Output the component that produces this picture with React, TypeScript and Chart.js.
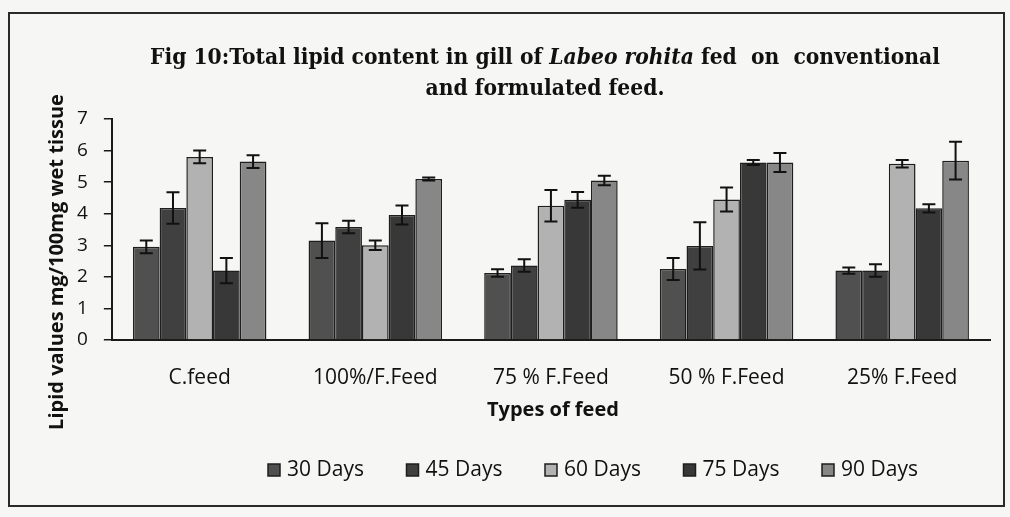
import React, { useEffect, useRef } from "react";
import { Chart, registerables } from "chart.js";

Chart.register(...registerables);

const categories = ["C.feed", "100%/F.Feed", "75 % F.Feed", "50 % F.Feed", "25% F.Feed"];
const seriesLabels = ["30 Days", "45 Days", "60 Days", "75 Days", "90 Days"];

const days30 = [2.95, 3.15, 2.12, 2.25, 2.2];
const days45 = [4.18, 3.58, 2.36, 2.98, 2.2];
const days60 = [5.8, 3.0, 4.25, 4.45, 5.58];
const days75 = [2.2, 3.96, 4.44, 5.62, 4.17];
const days90 = [5.65, 5.1, 5.05, 5.62, 5.68];

const err30 = [0.2, 0.55, 0.12, 0.35, 0.1];
const err45 = [0.5, 0.2, 0.2, 0.75, 0.2];
const err60 = [0.2, 0.15, 0.5, 0.38, 0.12];
const err75 = [0.4, 0.3, 0.25, 0.08, 0.13];
const err90 = [0.2, 0.05, 0.15, 0.3, 0.6];

const seriesValues = [days30, days45, days60, days75, days90];
const seriesErrors = [err30, err45, err60, err75, err90];
const seriesColors = ["#505050", "#404040", "#b2b2b2", "#383838", "#878787"];

const yMin = 0;
const yMax = 7;
const yStep = 1;

const titleLine1 = [
  { text: "Fig 10:Total lipid content in gill of ", italic: false },
  { text: "Labeo rohita", italic: true },
  { text: " fed  on  conventional", italic: false },
];
const titleLine2 = "and formulated feed.";
const yTitle = "Lipid values mg/100mg wet tissue";
const xTitle = "Types of feed";

const SANS = "'Open Sans', 'Liberation Sans', sans-serif";
const SERIF = "'DejaVu Serif', 'Liberation Serif', serif";

const backgroundPlugin = {
  id: "paperBackground",
  beforeDraw(chart: any) {
    const { ctx, width, height } = chart;
    ctx.save();
    ctx.fillStyle = "#f6f6f4";
    ctx.fillRect(0, 0, width, height);
    ctx.strokeStyle = "#2a2a2a";
    ctx.lineWidth = 2;
    ctx.strokeRect(9, 13, 995, 493);
    ctx.restore();
  },
};

const textPlugin = {
  id: "chartTexts",
  afterDraw(chart: any) {
    const ctx = chart.ctx;
    const area = chart.chartArea;
    ctx.save();
    ctx.fillStyle = "#111";
    ctx.textBaseline = "middle";

    // Title (mixed roman / italic)
    const size = 22;
    const fontFor = (it: boolean) => `${it ? "italic " : ""}bold ${size}px ${SERIF}`;
    let total = 0;
    const widths = titleLine1.map((s) => {
      ctx.font = fontFor(s.italic);
      const w = ctx.measureText(s.text).width;
      total += w;
      return w;
    });
    const sx = 790 / total;
    ctx.save();
    ctx.translate(545, 58);
    ctx.scale(sx, 1);
    let x = -total / 2;
    titleLine1.forEach((s, i) => {
      ctx.font = fontFor(s.italic);
      ctx.textAlign = "left";
      ctx.fillText(s.text, x, 0);
      x += widths[i];
    });
    ctx.restore();
    ctx.save();
    ctx.translate(545, 89);
    ctx.scale(sx, 1);
    ctx.font = fontFor(false);
    ctx.textAlign = "center";
    ctx.fillText(titleLine2, 0, 0);
    ctx.restore();

    // y axis title
    ctx.save();
    ctx.translate(57, 262);
    ctx.rotate(-Math.PI / 2);
    ctx.font = `bold 20px ${SANS}`;
    ctx.textAlign = "center";
    ctx.fillText(yTitle, 0, 0);
    ctx.restore();

    // x axis title
    ctx.font = `bold 20px ${SANS}`;
    ctx.textAlign = "center";
    ctx.fillText(xTitle, (area.left + area.right) / 2 + 2, area.bottom + 70);

    // legend
    const lx0 = 268;
    const step = 138.5;
    const ly = 470;
    ctx.font = `21px ${SANS}`;
    ctx.textAlign = "left";
    seriesLabels.forEach((label, i) => {
      const bx = lx0 + i * step;
      ctx.fillStyle = seriesColors[i];
      ctx.fillRect(bx, ly - 6, 12, 12);
      ctx.strokeStyle = "#1e1e1e";
      ctx.lineWidth = 1.5;
      ctx.strokeRect(bx, ly - 6, 12, 12);
      ctx.fillStyle = "#111";
      ctx.fillText(label, bx + 19, ly);
    });
    ctx.restore();
  },
};

const errorBarPlugin = {
  id: "errorBars",
  afterDatasetsDraw(chart: any) {
    const ctx = chart.ctx;
    const yScale = chart.scales.y;
    chart.data.datasets.forEach((ds: any, di: number) => {
      const meta = chart.getDatasetMeta(di);
      const errs = seriesErrors[di];
      meta.data.forEach((bar: any, i: number) => {
        const v = ds.data[i];
        const e = errs[i];
        const x = bar.x;
        const yTop = yScale.getPixelForValue(v + e);
        const yBot = yScale.getPixelForValue(v - e);
        ctx.save();
        ctx.strokeStyle = "#111";
        ctx.lineWidth = 2;
        ctx.beginPath();
        ctx.moveTo(x, yTop);
        ctx.lineTo(x, yBot);
        ctx.moveTo(x - 6.5, yTop);
        ctx.lineTo(x + 6.5, yTop);
        ctx.moveTo(x - 6.5, yBot);
        ctx.lineTo(x + 6.5, yBot);
        ctx.stroke();
        ctx.restore();
      });
    });
  },
};

export default function App() {
  const canvasRef = useRef<HTMLCanvasElement | null>(null);

  useEffect(() => {
    if (!canvasRef.current) return;
    const chart = new Chart(canvasRef.current, {
      type: "bar",
      data: {
        labels: categories,
        datasets: seriesLabels.map((label, i) => ({
          label,
          data: seriesValues[i],
          backgroundColor: seriesColors[i],
          borderColor: "#1e1e1e",
          borderWidth: 1.5,
          barPercentage: 1,
          categoryPercentage: 0.76,
        })),
      },
      options: {
        responsive: false,
        animation: false,
        layout: { padding: { left: 61, right: 20, top: 119, bottom: 101 } },
        plugins: {
          title: { display: false },
          tooltip: { enabled: false },
          legend: { display: false },
        },
        scales: {
          x: {
            grid: { drawOnChartArea: false, drawTicks: false },
            border: { display: true, color: "#1a1a1a", width: 2 },
            ticks: { color: "#111", padding: 25.4, font: { family: SANS, size: 21 } },
          },
          y: {
            min: yMin,
            max: yMax,
            ticks: { stepSize: yStep, color: "#111", padding: 16, font: { family: SANS, size: 19 } },
            grid: { drawOnChartArea: false, drawTicks: true, tickLength: 8, color: "#1a1a1a", lineWidth: 1.5 },
            border: { display: true, color: "#1a1a1a", width: 2 },
          },
        },
      },
      plugins: [backgroundPlugin, errorBarPlugin, textPlugin],
    });
    return () => chart.destroy();
  }, []);

  return (
    <div style={{ position: "fixed", left: 0, top: 0, width: 1010, height: 517 }}>
      <canvas ref={canvasRef} width={1010} height={517} style={{ display: "block" }} />
    </div>
  );
}
